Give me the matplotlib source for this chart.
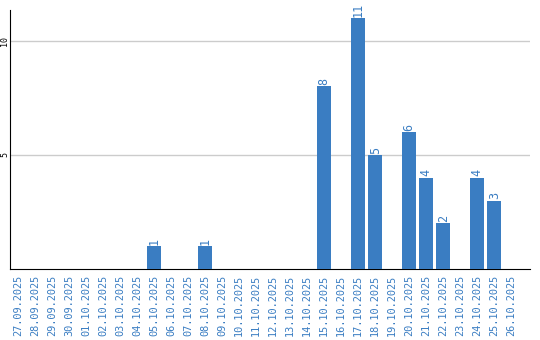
import matplotlib
matplotlib.use("Agg")
import matplotlib.pyplot as plt

dates = ["27.09.2025", "28.09.2025", "29.09.2025", "30.09.2025", "01.10.2025",
         "02.10.2025", "03.10.2025", "04.10.2025", "05.10.2025", "06.10.2025",
         "07.10.2025", "08.10.2025", "09.10.2025", "10.10.2025", "11.10.2025",
         "12.10.2025", "13.10.2025", "14.10.2025", "15.10.2025", "16.10.2025",
         "17.10.2025", "18.10.2025", "19.10.2025", "20.10.2025", "21.10.2025",
         "22.10.2025", "23.10.2025", "24.10.2025", "25.10.2025", "26.10.2025"]
counts = [0, 0, 0, 0, 0, 0, 0, 0, 1, 0,
          0, 1, 0, 0, 0, 0, 0, 0, 8, 0,
          11, 5, 0, 6, 4, 2, 0, 4, 3, 0]
yticks = [5, 10]

blue = "#3a7dc2"

fig = plt.figure(figsize=(5.4, 3.4), dpi=100)
ax = fig.add_axes([0.0194, 0.209, 0.962, 0.762])

x = list(range(len(dates)))
ax.bar(x, counts, width=0.82, color=blue, zorder=3)
for xi, v in zip(x, counts):
    if v > 0:
        ax.text(xi, v + 0.06, str(v), rotation=90, ha="center", va="bottom",
                color=blue, fontsize=8.5, family="DejaVu Sans Mono")

ax.set_xlim(-0.44, 30.1)
ax.set_ylim(0, 11.36)
ax.set_xticks(x)
ax.set_xticklabels(dates, rotation=90, color=blue, fontsize=7.4,
                   family="DejaVu Sans Mono")
ax.set_yticks(yticks)
ax.set_yticklabels([str(t) for t in yticks], rotation=90, fontsize=6,
                   family="DejaVu Sans Mono", va="center")
ax.tick_params(axis="both", length=0, pad=1)
ax.tick_params(axis="x", pad=4)
ax.grid(axis="y", color="#cccccc", linewidth=1, zorder=0)
for s in ("top", "right"):
    ax.spines[s].set_visible(False)
ax.spines["left"].set_color("black")
ax.spines["bottom"].set_color("black")

fig.savefig("out.png", dpi=100)
